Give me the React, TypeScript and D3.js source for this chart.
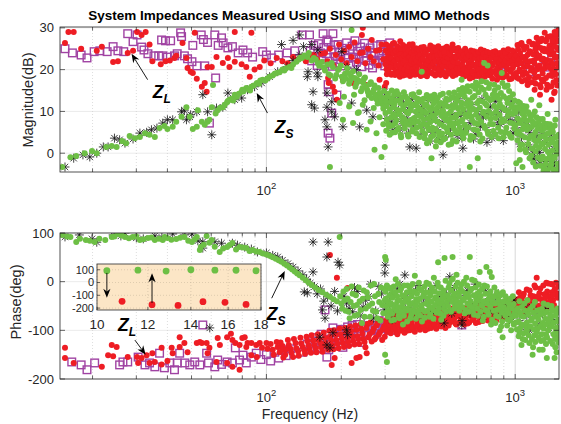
import React from 'react';
import * as d3 from 'd3';

// ---- data: [frequency (Hz), value] pairs, flat ----
// Z_L SISO (purple squares), magnitude dB
const zlMagSiso = [
  15.5, 25.0, 16.6, 24.0, 18, 23.5, 19, 22.8, 20.3, 24.3, 21.4, 24.5, 22.9, 24.3, 24.2, 25.5, 25.3, 24.5, 26.7, 24.3,
  27.7, 28.6, 29.1, 26.7, 30.2, 28.3, 31.5, 25.4, 32.2, 24.7, 33.4, 23.8, 35.3, 23.3, 36.9, 23.3, 37.9, 27.1, 38.3, 23.3,
  39.3, 26.9, 40, 23.0, 41.2, 26.9, 42.7, 23.3, 43.8, 23.8, 45.2, 28.8, 45.6, 27.9, 46.8, 23.3, 48.2, 22.6, 50.2, 21.9,
  50.6, 25.8, 52.5, 20.9, 54.7, 28.3, 55.8, 27.2, 56.5, 20.9, 58, 26.5, 59, 7.2, 62, 28.3, 62.5, 18.0, 64, 25.8,
  66, 27.6, 67, 26.4, 70, 25.2, 73, 25.5, 77, 24.0, 80.5, 24.7, 84, 24.0, 88, 23.0, 96.6, 24.3, 100, 23.5,
  105, 22.8, 112, 23.5, 121, 24.0, 130, 24.5, 139, 28.3, 149, 28.3, 169, 28.6, 175, 27.1, 185, 28.6,
  177, 16.4, 178, 14.7, 183, 9.6, 177, 4.8, 180, 3.6, 192, 13.9, 313, 26.4,
  150, 24.5, 152, 22.1, 155, 25.8, 157, 23.2, 160, 21.0, 162, 26.2, 165, 24.0, 167, 22.5, 170, 25.3, 172, 21.4,
  174, 23.8, 177, 26.6, 179, 22.0, 182, 24.7, 184, 20.8, 187, 25.9, 189, 23.1, 192, 21.6, 194, 26.0, 197, 24.2,
  199, 22.4, 202, 25.1, 205, 20.9, 207, 23.5, 210, 26.4, 213, 22.7, 216, 24.8, 218, 21.2, 221, 25.6, 224, 23.0,
  227, 26.9, 230, 21.8, 233, 24.4, 236, 22.6, 239, 25.4, 242, 20.7, 245, 23.9, 248, 26.3, 251, 22.2, 254, 24.6,
  258, 21.1, 261, 25.2, 264, 23.3, 267, 20.4, 271, 24.1, 274, 22.0, 278, 25.7, 281, 21.5, 285, 23.6, 288, 26.0,
  292, 22.3, 295, 24.5, 299, 20.9, 303, 23.2, 306, 25.1, 310, 21.7,
  330, 24.8, 360, 22.0, 390, 23.5, 413, 20.0, 425, 22.8, 440, 19.6, 470, 21.9, 500, 20.4, 540, 22.5, 580, 19.8,
  620, 21.4, 660, 19.0, 700, 22.2, 760, 20.0, 820, 21.6, 880, 19.3, 940, 21.0, 1000, 20.2, 1080, 22.4, 1150, 19.5,
  1230, 21.8, 1320, 20.6, 1400, 23.5, 1460, 24.5, 1490, 22.0,
];

// Z_L MIMO (red dots), magnitude dB
const zlMagMimo = [
  15.5, 26.4, 16, 29, 16.8, 29, 18, 25, 20.8, 24.5, 21.8, 25.5, 24.2, 21.8, 25.3, 22, 27.7, 24, 29.1, 24.5,
  30.2, 29, 31.5, 28.3, 32.7, 29, 33.9, 26, 34.8, 22, 37.6, 21.3, 39.3, 22, 40.9, 22.2, 42.7, 22.8, 43.4, 23.3,
  46, 26.4, 47.7, 22.8, 48.2, 20.4, 49.6, 19.5, 50.6, 19.2, 51.5, 28.8, 52.5, 17.8, 55, 15.9, 56.5, 16.8, 57.5, 14.7,
  58, 20.6, 60.3, 20.6, 63, 23, 66.8, 21.6, 70, 22.8, 71, 20.6, 74.6, 21.9, 74.6, 29, 79.5, 21.3, 83, 20.6,
  85.7, 18.3, 87, 28.8, 89.6, 20, 94, 20.6, 98, 22.2, 104, 21.5, 110, 22.8, 116, 22, 122, 21.5, 128, 23,
  134, 22.5, 139, 23, 144, 22, 149, 22.8, 155, 23.5, 160, 22.5, 166, 23.8,
  172, 24, 176, 22, 180, 25, 186, 21, 190, 23.5, 196, 26, 200, 22.5, 205, 24.5, 210, 21.5, 215, 25.5,
  220, 23, 226, 26.5, 232, 22, 238, 24, 242, 28.3, 244, 24.1, 244, 30, 250, 21.5, 256, 25, 262, 23,
  265, 27.1, 270, 22, 276, 24.5, 282, 21, 285, 24.7, 290, 26, 295, 22.5,
  177, 18, 178, 16.8, 185, 15.9, 188, 14.7, 192, 12.8, 203, 17.5, 223, 16.8, 253, 16.3, 285, 17.6, 299, 15.9, 303, 16.8,
  302, 24.5, 304, 20.1, 306, 22.8, 308, 19.2, 311, 25.6, 313, 21.4, 315, 23.7, 318, 18.8, 320, 22.1, 322, 26.2,
  325, 20.5, 327, 24.1, 330, 19.6, 332, 22.9, 335, 25.1, 337, 21.0, 340, 23.4, 342, 19.9, 345, 26.8, 347, 22.3,
  350, 20.7, 353, 24.6, 355, 18.6, 358, 23.0, 360, 21.7, 363, 25.4, 366, 19.4, 368, 22.6, 371, 24.0, 374, 20.3,
  376, 26.0, 379, 21.9, 382, 23.8, 385, 19.1, 388, 22.4, 391, 25.0, 394, 20.8, 397, 23.3, 400, 18.9,
  403, 24.2, 407, 21.1, 411, 22.9, 415, 19.5, 419, 25.3, 423, 20.6, 427, 23.5, 431, 18.7, 435, 22.0, 439, 24.6,
  444, 20.0, 448, 23.1, 452, 21.4, 456, 25.8, 461, 19.3, 465, 22.6, 470, 24.1, 474, 20.4, 479, 23.8, 484, 18.9,
  488, 21.8, 493, 24.9, 498, 20.9, 503, 22.7, 508, 19.6, 513, 23.9, 518, 21.2, 523, 25.2, 528, 19.0, 534, 22.3,
  539, 24.4, 545, 20.2, 550, 23.2, 556, 21.5, 562, 18.5, 568, 24.7, 574, 20.7, 580, 22.8, 586, 19.4, 592, 23.6, 598, 21.0,
  604, 23.9, 611, 19.8, 618, 22.1, 625, 18.4, 632, 24.3, 639, 20.5, 646, 22.9, 653, 19.1, 661, 21.6, 668, 23.7,
  676, 18.2, 684, 20.9, 692, 24.0, 700, 19.5, 708, 22.4, 716, 21.0, 724, 23.3, 732, 17.9, 741, 20.2, 750, 24.5,
  759, 19.0, 768, 22.0, 777, 20.6, 786, 23.5, 796, 18.6, 805, 21.4, 815, 24.2, 825, 19.7, 835, 22.6, 845, 17.6,
  855, 20.8, 865, 23.2, 876, 19.3, 887, 21.9, 898, 24.6, 909, 18.4, 920, 21.1, 931, 23.8, 942, 19.9, 954, 22.3,
  966, 17.8, 978, 20.4, 990, 24.1,
  1003, 21.8, 1015, 18.1, 1027, 24.9, 1040, 20.0, 1052, 22.7, 1065, 17.2, 1078, 25.6, 1091, 19.4, 1104, 23.1, 1117, 21.0,
  1130, 16.8, 1144, 24.4, 1158, 19.8, 1172, 26.0, 1186, 22.2, 1200, 18.0, 1214, 23.9, 1229, 20.6, 1244, 27.2, 1258, 16.3,
  1273, 22.5, 1289, 19.1, 1304, 25.0, 1320, 21.4, 1336, 15.2, 1352, 27.8, 1368, 18.6, 1384, 23.6, 1400, 20.1, 1417, 26.2,
  1434, 14.4, 1450, 22.9, 1467, 17.5, 1484, 28.5, 1495, 20.7,
  461, 25.5, 560, 26, 687, 24.3, 1043, 26, 1220, 27.6, 1314, 28.8, 1441, 29, 1467, 26.7, 1350, 24.3,
  1122, 16.3, 1197, 15.2, 1258, 14, 1400, 12.8, 1441, 14.7,
  1230, 25.5, 1265, 26.8, 1290, 24.6, 1330, 27.0, 1375, 25.8, 1395, 28.0, 1425, 24.0, 1455, 27.6, 1475, 25.2, 1490, 29.5,
  1310, 22.0, 1360, 21.0, 1410, 18.5, 1445, 20.0, 1470, 23.0, 1400, 16.0, 1280, 17.6, 1210, 25.0,
];
const zlMagMimoDense = [
  301, 21.3, 303, 26.0, 305, 18.9, 307, 24.0, 309, 22.2, 310, 19.8, 312, 23.0, 314, 25.2, 316, 20.6, 317, 22.7,
  319, 24.8, 321, 19.0, 323, 21.7, 324, 23.9, 326, 26.4, 328, 22.0, 329, 18.7, 331, 24.4, 333, 20.9, 334, 23.1,
  336, 25.6, 338, 19.3, 339, 22.5, 341, 24.3, 343, 21.2, 344, 18.3, 346, 23.6, 348, 25.0, 349, 20.2, 351, 22.8,
  352, 19.1, 354, 25.9, 356, 21.6, 357, 23.4, 359, 20.0, 361, 24.9, 362, 22.1, 364, 18.8, 365, 23.7, 367, 21.0,
  369, 25.3, 370, 19.7, 372, 22.9, 373, 24.5, 375, 20.7, 377, 23.0, 378, 18.5, 380, 25.7, 381, 21.5, 383, 22.2,
  384, 24.0, 386, 20.0, 387, 26.1, 389, 19.3, 390, 23.2, 392, 21.9, 393, 24.7, 395, 18.8, 396, 22.6, 398, 25.1, 399, 20.5,
  401, 22.1, 404, 19.8, 406, 25.0, 408, 23.0, 410, 19.2, 412, 24.6, 414, 21.7, 416, 23.5, 417, 18.5, 420, 22.4,
  422, 24.9, 424, 20.1, 426, 22.6, 429, 25.4, 430, 20.9, 433, 23.8, 436, 19.9, 437, 24.2, 441, 21.3, 442, 18.4,
  446, 24.8, 447, 22.2, 450, 19.4, 454, 23.3, 455, 25.1, 458, 20.7, 460, 22.9, 463, 24.5, 467, 19.0, 468, 21.5,
  472, 23.0, 473, 25.3, 477, 18.6, 478, 22.0, 481, 24.4, 483, 20.3, 486, 23.4, 490, 19.5, 491, 25.6, 495, 22.3,
  496, 20.0, 500, 24.0, 501, 18.7, 505, 21.7, 506, 23.6, 510, 25.0, 511, 20.8, 515, 22.2, 516, 19.2, 520, 24.1,
  521, 21.9, 525, 23.0, 526, 18.4, 531, 25.5, 532, 20.6, 536, 22.8, 537, 19.7, 542, 24.0, 543, 21.3, 548, 23.7,
  549, 19.0, 553, 25.2, 554, 20.7, 559, 22.5, 560, 24.6, 565, 19.6, 566, 21.9, 571, 23.1, 572, 25.0, 577, 18.8,
  578, 22.9, 583, 20.3, 584, 24.3, 589, 21.6, 590, 25.2, 595, 19.2, 596, 23.4,
  600, 20.3, 607, 24.4, 608, 22.7, 614, 18.9, 615, 21.0, 621, 23.5, 622, 20.0, 628, 22.4, 629, 25.0, 635, 18.8,
  636, 22.9, 642, 19.6, 643, 24.1, 650, 21.5, 651, 23.4, 657, 17.9, 658, 20.5, 664, 24.6, 665, 22.0, 672, 19.6,
  673, 23.1, 680, 21.2, 681, 24.4, 688, 18.6, 689, 22.8, 696, 20.6, 697, 23.7, 704, 18.5, 705, 21.6, 712, 24.2,
  713, 20.0, 720, 22.7, 721, 19.0, 728, 24.8, 729, 21.4, 737, 19.4, 738, 22.9, 745, 20.6, 746, 23.8, 755, 18.3,
  756, 21.7, 764, 23.0, 765, 19.9, 773, 24.2, 774, 21.1, 782, 18.7, 783, 22.3, 791, 20.2, 792, 24.0, 800, 19.4,
  801, 22.8, 810, 17.8, 811, 21.0, 820, 23.6, 821, 19.5, 830, 21.8, 831, 24.4, 840, 18.9, 841, 22.6, 850, 20.4,
  851, 23.9, 860, 18.2, 861, 21.7, 870, 24.0, 871, 19.6, 881, 22.4, 882, 20.9, 892, 18.1, 893, 23.2, 903, 21.4,
  904, 19.2, 914, 24.0, 915, 22.2, 925, 18.6, 926, 20.5, 936, 22.9, 937, 24.9, 948, 17.7, 949, 21.5, 960, 23.4,
  961, 19.5, 972, 22.1, 973, 24.6, 984, 18.5, 985, 21.0, 996, 22.8,
  1009, 23.4, 1010, 19.2, 1021, 21.3, 1022, 25.9, 1034, 17.8, 1035, 22.4, 1046, 24.0, 1047, 19.6, 1059, 21.5, 1060, 26.4,
  1072, 18.7, 1073, 23.0, 1085, 20.6, 1086, 24.8, 1098, 17.5, 1099, 22.1, 1111, 25.4, 1112, 19.0, 1124, 23.6, 1125, 20.8,
  1137, 18.2, 1138, 26.7, 1151, 22.0, 1152, 24.3, 1165, 17.0, 1166, 20.4, 1179, 23.7, 1180, 26.2, 1193, 19.3, 1194, 21.6,
  1207, 24.9, 1208, 16.6, 1221, 22.8, 1222, 20.0, 1236, 26.5, 1237, 18.3, 1251, 23.3, 1252, 21.0, 1266, 15.8, 1267, 25.2,
  1281, 19.9, 1282, 27.4, 1297, 22.6, 1298, 17.2, 1312, 24.4, 1313, 20.3, 1328, 26.8, 1329, 18.0, 1344, 22.3, 1345, 16.4,
  1360, 25.0, 1361, 20.6, 1376, 27.9, 1377, 15.9, 1392, 22.0, 1393, 24.8, 1408, 19.1, 1409, 26.9, 1425, 21.2, 1426, 17.0,
  1442, 25.5, 1443, 23.0, 1459, 18.9, 1460, 28.6, 1476, 21.6, 1477, 16.2, 1492, 24.7, 1493, 26.9,
];

// Z_S SISO (black asterisks), magnitude dB
const zsMagSiso = [
  15.5, -3.3, 16.8, -1.2, 18.3, -0.4, 19.5, -0.9, 20.8, 0, 22.1, 1.5, 23.1, 1.5, 24.5, 3.6, 25.7, 3.2, 27, 2.4,
  29.1, 3.4, 31, 4.8, 33, 5.0, 34.5, 5.6, 36.3, 6.0, 38.3, 7.2, 40, 8.0, 42, 8.0, 45.6, 9.9, 46.8, 10.3,
  47.7, 8.0, 49.2, 8.7, 49.6, 9.2, 52.5, 9.9, 55.5, 14, 58, 9.9, 60.3, 4.4, 63, 10.8, 66.8, 11, 70, 14.4,
  74.6, 12.8, 79.5, 13.2, 84, 15.2, 89.6, 15.9, 95.7, 16.8, 103, 18.3, 111, 19.5, 115, 26, 121, 20.7, 128, 22.2,
  128, 27, 136, 23.5, 136, 28.3, 141, 25.5, 146, 18.3, 147, 19.5, 152, 26, 152, 11.6, 154, 14.7, 156, 10.8,
  160, 19.2, 161, 18.3, 161, 24.7, 172, 8, 175, 14.4, 175, 11, 175, 6.3, 177, 1.5, 183, 9.9, 183, 12.3,
  188, 8.7, 201, 24.3, 203, 6.3, 211, 20.6, 220, 12, 230, 20, 237, 6.3, 253, 10.3, 268, 8.7, 291, 13.5,
  299, 14.7, 377, 1.5, 400, 1.2, 513, -0.4, 616, 1.2, 1180, 0, 1190, -1.6, 1258, -2.4, 1420, -3.3,
  310, 11.8, 318, 7.5, 326, 13.0, 335, 9.2, 345, 5.8, 356, 12.1, 366, 8.4, 378, 10.9, 390, 6.7, 403, 9.7,
  415, 4.4, 428, 11.0, 442, 7.1, 456, 2.9, 470, 9.5, 485, 5.6, 500, 10.9, 516, 3.8, 532, 8.1, 549, 6.0,
  566, 11.5, 584, 4.2, 602, 9.0, 620, 5.1, 640, 12.2, 660, 7.3, 680, 3.4, 702, 10.0, 724, 6.4, 746, 8.6,
  770, 2.6, 794, 11.1, 818, 5.0, 843, 9.2, 869, 6.9, 896, 3.0, 924, 10.4, 953, 7.8, 982, 4.8, 1012, 8.0,
  1044, 2.2, 1076, 6.1, 1109, 0.8, 1143, 4.9, 1179, -1.2, 1215, 3.1, 1253, 0.2, 1291, 5.0, 1331, -2.0, 1372, 2.1,
  1415, -0.6, 1459, 1.5, 1490, -2.8,
  305, 8.3, 315, 12.4, 322, 5.5, 332, 10.6, 340, 13.5, 350, 7.6, 362, 10.2, 372, 4.8, 384, 12.8, 396, 8.0,
  409, 11.2, 421, 6.5, 435, 9.3, 449, 12.6, 463, 5.0, 478, 8.0, 492, 3.3, 508, 7.4, 524, 12.3, 540, 4.8,
  557, 9.1, 575, 7.0, 593, 13.0, 611, 3.6, 630, 9.8, 650, 6.0, 670, 11.6, 691, 4.5, 713, 8.9, 735, 12.9,
  758, 6.2, 782, 9.5, 806, 3.6, 831, 12.4, 856, 7.4, 882, 10.4, 910, 4.9, 938, 8.7, 967, 12.5, 997, 6.0,
  1028, 9.7, 1060, 3.9, 1092, 7.0, 1126, 2.0, 1161, 6.4, 1197, 0.5, 1234, 4.2, 1272, -1.4, 1311, 2.6, 1351, -3.0,
  1393, 4.4, 1437, -2.2, 1475, 0.3,
];

// Z_S MIMO (green dots), magnitude dB
const zsMagMimo = [
  15.1, -3.3, 16.3, -1.0, 17.2, -0.7, 18.6, 0, 19.9, 0.5, 20.8, 0, 22.7, 1.5, 23.9, 1.7, 25, 1.5, 26.3, 2.9,
  27.3, 2.4, 28.2, 4.1, 29.6, 3.6, 31, 3.9, 32.5, 4.8, 33.9, 4.4, 35.6, 3.9, 37.2, 6.0, 38.9, 6.5, 40, 5.8,
  42, 6.3, 43.4, 7.5, 45.6, 8.7, 47.7, 11.0, 49.2, 8.7, 50.6, 5.8, 52.5, 6.3, 53, 10.3, 55, 7.5, 58, 7.5,
  60.3, 11, 61, 16.3, 63.7, 10.3, 66.8, 11, 71, 12.8, 74.6, 14, 79.5, 14.7, 83, 15.6, 87, 15.9, 91.5, 16.8,
  96.6, 17.6, 103, 18.3, 110, 19.2, 116, 20, 124, 20.7, 132, 21.9, 139, 22.8, 146, 23.0, 152, 22.2,
  62.5, 9.5, 65, 10.8, 68, 11.6, 69.5, 12.2, 72.5, 13.0, 76, 13.5, 77.5, 14.2, 81, 14.8, 85, 15.3, 89, 16.2,
  93.5, 16.6, 99, 17.4, 106, 18.6, 113, 19.4, 120, 20.3, 128, 21.2, 135, 22.4, 142, 23.4, 56.5, 6.8, 59, 8.0,
  70, 12.5, 73.5, 12.6, 80, 15.2, 86, 15.0, 94.5, 17.4, 101, 17.9, 108, 19.0, 118, 19.8, 126, 20.4, 137, 22.9,
  148, 24.0, 155, 22.8,
  158, 22.4, 163, 20.9, 167, 21.8, 172, 19.8, 176, 21.2, 181, 18.6, 185, 20.6, 189, 17.9, 194, 19.9, 199, 21.0,
  203, 17.2, 207, 19.0, 211, 20.3, 215, 16.6, 219, 18.4, 223, 19.6, 228, 15.9, 232, 17.6, 236, 18.9, 240, 14.8,
  245, 16.9, 249, 18.1, 254, 15.2, 258, 13.8, 263, 17.0, 267, 14.5, 272, 16.2, 277, 12.9, 282, 15.6, 287, 13.6,
  292, 11.8, 297, 14.9,
  161, 21.5, 170, 20.5, 178, 18.9, 183, 21.6, 191, 18.7, 196, 20.2, 201, 18.3, 209, 17.8, 213, 19.2, 217, 17.3,
  226, 18.0, 230, 16.7, 238, 17.2, 243, 15.6, 247, 17.9, 252, 16.1, 256, 14.6, 260, 16.5, 265, 13.2, 270, 15.2,
  275, 14.0, 280, 11.9, 285, 14.4, 289, 12.5, 295, 10.7, 299, 13.2,
  205, 13.5, 215, 11.2, 225, 14.0, 235, 9.8, 248, 12.7, 262, 7.6, 270, 10.8, 285, 8.6, 295, 6.9,
  220, 29.5, 180, -3.3, 290, -0.9, 272, 0.8, 299, 1.5, 277, 4.8, 253, 5.6, 223, 7.2, 203, 8, 233, 9.6, 244, 11.6, 197, 12,
  775, 21, 883, 19.2, 609, 17.6, 750, 21.6, 707, 16.3, 615, 15.6, 421, 19.5,
  461, -1.2, 657, -3.3, 707, -1.2, 1043, -1.6, 1070, -3.3, 1010, -2.4,
];
const zsMagMimoDense = [
  302, 12.4, 305, 8.1, 308, 14.2, 311, 6.3, 314, 10.5, 317, 13.1, 320, 4.9, 324, 9.3, 327, 11.8, 330, 7.2,
  334, 14.8, 337, 5.6, 341, 10.1, 344, 12.7, 348, 3.8, 351, 8.6, 355, 11.2, 358, 6.9, 362, 13.6, 366, 9.8,
  370, 4.4, 373, 12.0, 377, 7.7, 381, 10.9, 385, 5.2, 389, 14.1, 393, 8.4, 397, 11.5, 401, 6.1, 405, 13.0,
  409, 9.0, 413, 3.9, 417, 10.4,
  301, 9.6, 303, 5.4, 304, 11.3, 307, 13.7, 309, 7.0, 312, 10.0, 313, 4.4, 316, 12.2, 318, 8.6, 319, 15.0,
  322, 6.6, 323, 11.0, 326, 13.9, 328, 9.0, 329, 5.0, 332, 12.6, 333, 7.9, 336, 10.4, 339, 14.1, 340, 6.0,
  343, 9.3, 346, 11.9, 347, 4.4, 350, 13.3, 353, 7.4, 354, 10.5, 357, 14.6, 359, 8.1, 360, 5.9, 364, 11.8,
  365, 7.1, 368, 13.0, 371, 9.5, 372, 4.0, 375, 12.4, 376, 6.8, 379, 10.2, 383, 14.0, 384, 8.0, 387, 5.6,
  391, 11.6, 392, 7.3, 395, 13.4, 399, 9.9, 400, 4.8, 403, 12.1, 407, 7.6, 408, 10.9, 411, 14.6, 415, 6.4,
  416, 12.8, 419, 8.7,
  421, 12.3, 426, 7.0, 430, 9.9, 434, 4.6, 439, 11.7, 443, 6.4, 448, 13.5, 452, 2.9, 457, 8.8, 461, 10.8,
  466, 5.5, 471, 12.9, 475, 7.9, 480, 1.6, 485, 9.6, 490, 11.1, 495, 4.1, 500, 13.9, 505, 6.8, 510, 10.2,
  515, 3.3, 521, 8.3, 526, 12.4, 531, 5.9, 537, 9.4, 542, 14.4, 548, 7.3, 553, 2.2, 559, 11.4, 565, 6.0,
  571, 13.2, 577, 8.5, 583, 4.8, 589, 10.7, 595, 15.1,
  423, 10.0, 424, 5.3, 428, 13.0, 429, 8.1, 432, 3.6, 433, 11.4, 437, 6.8, 438, 9.6, 441, 13.9, 442, 2.4,
  446, 8.3, 447, 11.0, 450, 5.6, 451, 12.9, 455, 7.4, 456, 10.3, 459, 3.9, 460, 13.6, 464, 9.0, 465, 6.1,
  469, 11.9, 470, 4.3, 473, 14.0, 474, 8.6, 478, 10.6, 479, 5.8, 482, 12.5, 483, 3.0, 487, 7.6, 488, 13.2,
  492, 9.8, 493, 5.0, 497, 11.8, 498, 7.0, 502, 2.6, 503, 12.0, 507, 8.9, 508, 4.7, 512, 14.2, 513, 10.1,
  517, 6.4, 518, 11.5, 523, 3.6, 524, 9.1, 528, 13.0, 529, 7.8, 534, 5.1, 535, 11.2, 539, 8.0, 540, 2.0,
  545, 12.9, 546, 6.6, 551, 10.0, 552, 4.4, 557, 13.4, 558, 8.5, 562, 3.1, 563, 10.9, 568, 7.1, 569, 14.5,
  574, 5.4, 575, 11.8, 580, 9.2, 581, 2.8, 586, 12.6, 587, 7.2, 592, 4.9, 593, 13.8, 598, 9.6, 599, 6.2,
  602, 7.6, 609, 12.1, 616, 4.3, 623, 14.6, 630, 9.2, 637, 6.1, 644, 16.0, 652, 11.0, 659, 3.2, 667, 8.7,
  675, 13.3, 683, 5.7, 691, 15.4, 699, 10.1, 707, 7.0, 716, 12.6, 724, 2.8, 733, 17.2, 742, 9.6, 751, 6.5,
  760, 14.0, 769, 11.4, 778, 4.6, 788, 16.5, 797, 8.2, 807, 12.9, 817, 5.3, 827, 15.0, 837, 9.9, 847, 13.8,
  857, 3.6, 868, 11.8, 878, 7.4, 889, 16.8, 900, 10.6, 911, 5.0, 922, 13.1, 934, 8.9, 945, 14.9, 957, 4.0,
  969, 11.6, 981, 7.1, 993, 12.6,
  605, 11.1, 606, 5.2, 612, 14.1, 613, 8.0, 619, 3.6, 620, 10.5, 626, 13.5, 627, 6.8, 633, 11.8, 634, 4.9,
  640, 15.0, 641, 8.7, 648, 12.7, 649, 6.2, 655, 9.8, 656, 14.7, 663, 4.1, 664, 11.9, 671, 7.9, 672, 16.1,
  679, 10.6, 680, 3.9, 687, 13.7, 688, 7.2, 695, 9.2, 696, 16.9, 703, 5.5, 704, 12.0, 712, 8.4, 713, 14.6,
  720, 4.5, 721, 10.9, 729, 15.7, 730, 7.5, 738, 12.4, 739, 3.5, 747, 9.9, 748, 15.2, 756, 6.0, 757, 11.9,
  765, 17.0, 766, 8.8, 774, 13.2, 775, 5.2, 783, 10.1, 784, 15.6, 793, 7.0, 794, 12.7, 803, 3.9, 804, 9.4,
  813, 14.0, 814, 6.9, 823, 11.3, 824, 16.4, 833, 4.5, 834, 8.4, 843, 13.4, 844, 10.9, 854, 6.1, 855, 15.7,
  865, 9.2, 866, 12.9, 875, 5.1, 876, 14.4, 886, 8.1, 887, 11.0, 897, 3.8, 898, 13.6, 908, 7.7, 909, 15.9,
  920, 10.3, 921, 6.1, 931, 12.0, 932, 16.2, 943, 4.7, 944, 9.9, 955, 13.3, 956, 7.3, 967, 11.1, 968, 3.7,
  979, 14.1, 980, 9.4, 991, 5.9, 992, 10.5,
  1005, 9.8, 1016, 4.7, 1027, 12.3, 1039, 7.2, 1050, 2.1, 1062, 10.4, 1074, 5.8, 1086, 8.9, 1098, 0.9, 1110, 11.2,
  1122, 6.3, 1135, 3.5, 1147, 9.1, 1160, -0.6, 1173, 7.6, 1186, 4.2, 1199, 10.0, 1212, 1.8, 1226, 6.8, 1240, 3.0,
  1254, 8.2, 1268, -1.5, 1282, 5.4, 1296, 2.4, 1311, 7.1, 1325, -2.6, 1340, 4.6, 1355, 0.3, 1370, 6.0, 1386, -3.4,
  1401, 2.9, 1417, 5.1, 1433, -0.9, 1449, 3.8, 1466, -4.0, 1482, 1.2, 1495, 4.4, 1210, -3.2, 1300, -4.2, 1160, 12.8,
  1250, 11.5, 1350, 9.4, 1450, 8.0, 1480, -2.5, 1400, -1.8,
  1002, 6.6, 1011, 11.0, 1021, 3.1, 1022, 8.3, 1033, 10.9, 1034, 5.2, 1045, 12.0, 1046, 0.9, 1056, 7.9, 1057, 4.3,
  1068, 9.5, 1069, 2.0, 1080, 11.3, 1081, 6.6, 1092, 3.8, 1093, 8.0, 1104, 10.1, 1105, 0.2, 1116, 5.6, 1117, 7.7,
  1128, 2.2, 1129, 9.8, 1141, 6.0, 1142, -1.2, 1154, 4.1, 1155, 8.5, 1167, 1.1, 1168, 6.3, 1180, 9.2, 1181, -2.2,
  1193, 3.2, 1194, 7.2, 1206, 5.0, 1207, 0.4, 1219, 8.6, 1220, 2.9, 1233, -1.0, 1234, 5.9, 1247, 7.8, 1248, 1.3,
  1261, 4.0, 1262, -3.0, 1275, 6.6, 1276, 2.1, 1289, -0.8, 1290, 8.2, 1303, 4.0, 1304, -3.6, 1318, 1.0, 1319, 6.0,
  1333, 3.3, 1334, -1.4, 1348, 7.0, 1349, -4.1, 1363, 2.0, 1364, 4.8, 1378, -0.6, 1379, 6.9, 1394, -2.7, 1395, 3.4,
  1409, 0.6, 1410, 5.9, 1425, -3.9, 1426, 2.5, 1441, -1.1, 1442, 6.6, 1457, 1.8, 1458, -4.3, 1474, 4.0, 1475, -0.1,
  1490, 2.6, 1491, -3.6,
];

// Z_L SISO (purple squares), phase deg
const zlPhaseSiso = [
  16.5, -165, 18, -171, 19, -181, 20.4, -167, 25.7, -171, 26.5, -165, 27.7, -165, 30.5, -155, 32.5, -171, 33.9, -167,
  35.6, -175, 37.2, -147, 38.9, -177, 40.9, -167, 42.7, -181, 43.8, -167, 44.8, -147, 47, -167, 49.2, -171, 51.5, -165,
  54, -171, 55.5, -89, 57.5, -147, 58.5, -167, 62, -175, 63.7, -161, 66, -170, 69.5, -165, 73, -167, 75, -136,
  78, -161, 80.5, -151, 83, -167, 87, -155, 91, -147,
  95, -160, 100, -150, 104, -163, 108, -145, 112, -157, 116, -140, 120, -152, 125, -138, 130, -148, 135, -133,
  140, -145, 146, -128, 152, -140, 158, -122, 164, -135, 170, -118, 172, -58, 175, -120, 175, -155, 178, -110,
  182, -128, 188, -104, 194, -120, 200, -98, 206, -115, 212, -93, 218, -110, 225, -100, 232, -88, 240, -106,
  248, -95, 256, -83, 265, -101, 274, -90, 284, -80, 294, -96, 305, -85, 320, -92, 340, -80, 360, -88, 610, -89,
  150, -128, 155, -115, 160, -138, 166, -108, 168, -125, 178, -140, 185, -95, 190, -132, 197, -112, 203, -135,
  209, -102, 215, -122, 221, -90, 228, -117, 235, -96, 243, -125, 251, -105, 260, -90, 268, -112, 278, -97,
  288, -108, 300, -90, 315, -100, 330, -85, 350, -95, 375, -82,
];

// Z_L MIMO (red dots), phase deg
const zlPhaseMimo = [
  15.5, -136, 15.5, -157, 16.8, -167, 21.8, -175, 23.1, -151, 23.9, -130, 24.2, -153, 25, -134, 27.7, -155, 30.2, -155,
  30.5, -167, 31.5, -157, 33, -151, 33.9, -167, 34.8, -147, 35.6, -165, 37.9, -170, 37.9, -136, 40, -163, 41.6, -136,
  42, -147, 44.8, -134, 44.8, -114, 46.8, -126, 48.2, -145, 52.5, -126, 54, -124, 55, -126, 57.5, -126, 58, -147,
  59, -136, 63, -165, 63.7, -116, 65, -130, 69.5, -114, 69.5, -167, 72, -107, 73, -120, 73, -175, 75, -126,
  78, -130, 78, -181, 80, -116, 81.8, -114, 83, -134, 84, -126, 87, -126, 87, -151, 91, -130, 91.5, -155,
  94, -126, 96, -136, 100, -126, 106, -140, 110, -124,
  113, -145, 116, -132, 119, -150, 122, -120, 125, -138, 128, -155, 131, -126, 134, -143, 137, -115, 140, -134,
  143, -148, 146, -122, 149, -139, 152, -110, 156, -130, 159, -145, 163, -118, 166, -135, 170, -105, 173, -127,
  177, -140, 180, -113, 180, 55, 184, -131, 187, -100, 191, -120, 195, -137, 192, 8, 199, -108, 203, -126,
  207, -95, 211, -116, 215, -132, 219, -102, 223, -122, 228, -90, 230, -157, 232, -112, 236, -128, 237, -155,
  241, -98, 245, -118, 250, -135, 253, -147, 255, -87, 260, -108, 265, -123, 270, -96, 275, -115, 280, -85,
  286, -104, 292, -120, 297, -92, 183, -171, 188, -157, 220, -167, 212, -13, 161, -120, 116, -140,
  302, -88, 307, -74, 312, -99, 317, -67, 322, -92, 327, -80, 333, -104, 338, -70, 344, -86, 349, -96,
  355, -65, 361, -82, 367, -101, 373, -73, 379, -90, 385, -78, 391, -98, 398, -66, 404, -85, 411, -94,
  418, -71, 425, -88, 432, -63, 439, -80, 446, -97, 453, -69, 461, -86, 468, -75, 476, -92, 484, -62,
  492, -81, 500, -89, 508, -67, 516, -78, 524, -95,
  533, -71, 545, -84, 556, -60, 568, -77, 580, -88, 592, -64, 605, -79, 618, -55, 631, -73, 644, -86,
  658, -61, 672, -75, 686, -52, 700, -68, 715, -83, 730, -58, 745, -72, 761, -62, 777, -80, 793, -53,
  810, -67, 827, -76, 844, -57, 862, -70, 880, -49, 899, -63, 918, -74, 937, -54, 957, -66, 977, -45,
  990, -58, 1008, -40, 1026, -52, 1045, -33, 1064, -47, 1083, -25, 1103, -55, 1123, -38, 1143, -18, 1164, -44,
  1185, -30, 1207, -12, 1229, -49, 1251, -24, 1274, -36, 1297, -8, 1321, -42, 1345, -20, 1369, -30, 1394, -5,
  1419, -38, 1445, -15, 1471, -26, 1495, -10, 1220, 8, 1334, -2, 1415, -6, 1440, -17,
];
const zlPhaseMimoDense = [
  101, -138, 104, -128, 107, -150, 111, -134, 114, -125, 117, -156, 120, -139, 123, -130, 126, -146, 129, -118,
  132, -137, 135, -152, 138, -127, 142, -141, 145, -113, 148, -131, 151, -146, 154, -121, 158, -137, 161, -108,
  165, -126, 168, -144, 172, -116, 175, -133, 179, -101, 182, -121, 186, -139, 190, -109, 193, -127, 197, -96,
  201, -117, 205, -134, 209, -104, 213, -124, 217, -92, 221, -112, 226, -129, 230, -99, 234, -118, 239, -88,
  243, -107, 248, -124, 252, -95, 257, -114, 262, -84, 267, -103, 272, -119, 277, -90, 283, -109, 288, -79,
  294, -98, 299, -113,
  301, -96, 304, -80, 306, -103, 309, -69, 311, -88, 314, -75, 316, -106, 319, -83, 321, -70, 324, -98,
  326, -87, 329, -65, 331, -95, 335, -77, 336, -108, 340, -90, 342, -72, 346, -101, 348, -63, 352, -84,
  353, -93, 357, -74, 359, -105, 363, -69, 365, -88, 369, -96, 371, -62, 375, -81, 377, -100, 381, -72,
  383, -86, 387, -94, 389, -64, 393, -77, 395, -103, 400, -72, 402, -91, 407, -80, 409, -60, 414, -99,
  416, -76, 421, -85, 423, -65, 428, -93, 430, -74, 435, -100, 437, -68, 442, -84, 444, -62, 449, -90,
  451, -77, 456, -64, 459, -95, 464, -73, 466, -83, 472, -60, 474, -88, 480, -70, 482, -97, 488, -66,
  490, -76, 496, -85, 498, -61, 504, -92, 506, -72, 512, -82, 514, -59, 520, -88, 522, -70, 528, -79,
  538, -62, 540, -90, 550, -73, 552, -55, 562, -82, 564, -67, 574, -59, 576, -86, 586, -71, 588, -52,
  598, -84, 600, -66, 611, -57, 613, -76, 624, -88, 626, -63, 637, -53, 639, -81, 651, -69, 653, -84,
  665, -50, 667, -66, 679, -79, 681, -57, 693, -72, 695, -85, 708, -49, 710, -63, 723, -76, 725, -54,
  738, -68, 740, -81, 753, -48, 755, -60, 769, -73, 771, -50, 785, -65, 787, -78, 802, -59, 804, -45,
  819, -71, 821, -62, 836, -50, 838, -80, 853, -64, 855, -44, 871, -57, 873, -72, 889, -47, 891, -66,
  908, -56, 910, -41, 927, -69, 929, -48, 947, -60, 949, -38, 967, -52, 969, -70, 988, -44,
  1000, -36, 1017, -62, 1035, -22, 1055, -50, 1074, -30, 1093, -62, 1113, -16, 1133, -46, 1153, -28, 1174, -56,
  1196, -8, 1218, -36, 1240, -52, 1262, -14, 1285, -45, 1309, -26, 1333, -56, 1357, -4, 1381, -40, 1406, -22,
  1432, -48, 1458, -2, 1483, -33, 1012, -45, 1065, -40, 1150, -35, 1240, -30, 1330, -32, 1420, -28, 1490, -25,
];

// Z_S SISO (black asterisks), phase deg
const zsPhaseSiso = [
  15.5, 92, 17.7, 96, 19.9, 88, 20.8, 81, 24.2, 96, 26, 94, 27, 100, 30, 90, 32, 88, 35.6, 94,
  38, 91, 42, 98, 46.8, 96, 50.2, 98, 53, 84, 55.5, 82, 55.5, 69, 59.2, -95, 62, 82, 66, 79,
  73, 79, 76.5, 75, 81.8, 71, 87, 67, 92, 61, 100, 59, 106, 54, 111, 50.7, 116, 44, 122, 37,
  128, 30, 134, 22, 140, 14, 145, 5, 150, -3, 156, -10, 160, -25, 165, -15, 170, -40, 176, -30,
  182, -50, 188, -20, 193, -60,
  154, 81.5, 177, 81.5, 175, 50.7, 194, 40, 197, 34, 300, 34, 299, 17.8, 360, 13.7, 154, 20, 142, -21,
  146, -23, 168, -58, 172, -75, 164, -114, 180, -136, 175, -130, 185, -105, 210, -99, 212, -109, 610, -89,
  382, -21, 546, 10,
  205, -30, 215, -55, 226, -12, 238, -70, 250, -38, 262, -5, 275, -60, 290, -25, 305, -48, 320, -78,
  336, -15, 352, -55, 370, -35, 388, -68, 407, -8, 427, -45, 448, -22, 470, -58, 494, -30, 518, -85,
  543, -40, 570, -12, 598, -50, 627, -28, 658, -65, 690, -5, 724, -42, 760, -20, 797, -55, 836, -35,
  877, -70, 920, -48, 966, -82, 1013, -60, 1062, -95, 1114, -70, 1169, -52, 1226, -88, 1286, -66, 1349, -100,
  1415, -78, 1480, -92,
  210, -44, 222, -62, 232, -20, 245, -52, 258, -30, 270, -75, 283, -10, 298, -58, 313, -30, 328, -60,
  344, -5, 361, -40, 379, -52, 398, -18, 417, -72, 437, -35, 459, -60, 481, -8, 506, -48, 530, -25,
  556, -65, 584, -35, 612, -80, 642, -18, 674, -50, 707, -30, 742, -72, 778, -40, 816, -62, 856, -25,
  898, -55, 943, -70, 989, -38, 1037, -80, 1088, -48, 1141, -100, 1197, -66, 1256, -90, 1318, -55, 1382, -78,
  1450, -110,
];

// Z_S MIMO (green dots), phase deg
const zsPhaseMimo = [
  15.1, 96, 16.3, 91.8, 17.2, 81.5, 18.8, 85.6, 20.4, 81.5, 22.5, 85.6, 23.9, 91.8, 25.3, 98, 27, 91.8, 29, 91.8,
  31, 85.6, 33.4, 89.7, 35.6, 85.6, 38.3, 85.6, 40, 89.7, 43.4, 87.7, 46.8, 91.8, 50.2, 81.5, 52.5, 91.8, 54, 65,
  54.5, 71, 57.5, 94, 60.3, 85.6, 64.9, 61, 69.5, 71, 73, 79.4, 78, 71, 83, 69, 88, 65, 94, 61,
  15.8, 93, 17.8, 88, 19.5, 84, 21.3, 88, 24.5, 93, 26.2, 95, 28, 89, 30, 93, 32, 87, 34.5, 91,
  37, 88, 39, 92, 41.5, 86, 45, 90, 48.5, 84, 51.5, 87, 56, 76, 59, 80, 62, 72, 67, 68,
  71, 75, 75.5, 66, 80.5, 70, 85.5, 63, 91, 62, 96.5, 58,
  100, 56, 103, 53, 106, 50, 109, 47, 112, 44, 115, 41, 118, 37, 121, 33, 124, 29, 127, 25,
  130, 21, 133, 17, 136, 13, 140, 8, 144, 3, 148, -2, 152, -7, 157, -12, 162, -17, 168, -22,
  174, -27, 180, -31, 186, -36, 192, -40,
  200, -45, 204, -20, 208, -60, 212, -35, 216, -75, 220, -10, 224, -50, 229, -28, 233, -68, 237, -40,
  242, -85, 246, -18, 251, -55, 256, -32, 261, -72, 266, -45, 271, -5, 276, -62, 282, -25, 287, -80,
  292, -48, 298, -15,
  198, -30, 202, -55, 206, -38, 210, -15, 214, -62, 218, -42, 222, -25, 226, -70, 231, -48, 235, -12,
  239, -58, 244, -35, 248, -72, 253, -22, 258, -50, 263, -8, 268, -60, 273, -30, 279, -75, 284, -42,
  289, -12, 295, -65, 299, -38,
  197, 92, 300, 50.7, 302, 45, 490, 40, 520, 48.6, 560, 50.7, 657, 50.7, 720, 20, 766, 30, 791, 20, 805, 9.6,
  300, -150, 305, -165, 1175, -150, 1290, -140, 1340, -157, 1440, -157, 1467, -145, 866, -100, 890, -114,
];
const zsPhaseMimoDense = [
  302, -35, 306, -62, 310, -12, 314, -48, 318, -80, 322, -25, 327, -55, 331, 5, 336, -40, 340, -70,
  345, -18, 350, -52, 354, -88, 359, -30, 364, -60, 369, -8, 374, -44, 379, -75, 384, -22, 389, -58,
  395, 12, 400, -36, 405, -66, 411, -14, 417, -50, 422, -82, 428, -28, 434, -62, 440, -2, 446, -42,
  452, -72, 458, -20, 464, -54, 471, 8, 477, -34, 484, -64, 490, -10, 497, -46, 504, -78, 511, -26,
  518, -56, 525, 2,
  301, -20, 303, -50, 305, -8, 308, -72, 309, -40, 312, -28, 313, -60, 316, -15, 317, -45, 320, -66,
  321, -33, 325, -10, 326, -78, 329, -48, 330, -22, 334, -60, 335, -30, 338, -5, 339, -52, 343, -75,
  344, -38, 348, -14, 349, -62, 352, -28, 353, -44, 357, -70, 358, -8, 362, -40, 363, -55, 367, -22,
  368, -82, 372, -35, 373, -58, 377, -12, 378, -48, 382, -68, 383, -30, 387, -5, 388, -44, 392, -62,
  393, -20, 398, -50, 399, -76, 403, -25, 404, -40, 409, -60, 410, -2, 414, -35, 415, -70, 420, -18,
  421, -48, 426, -58, 427, -30, 432, -10, 433, -74, 438, -45, 439, -22, 444, -60, 445, -34, 450, -5,
  451, -50, 456, -68, 457, -28, 462, -40, 463, -12, 468, -58, 469, -76, 475, -20, 476, -48, 481, -32,
  482, -62, 488, -2, 489, -40, 494, -55, 495, -24, 501, -66, 502, -12, 508, -45, 509, -35, 515, -70,
  516, -18, 522, -50, 523, -30, 528, -62,
  532, -40, 540, -12, 548, -58, 556, 4, 564, -30, 573, -48, 581, 14, 590, -22, 599, -55, 608, -6,
  617, -38, 627, -65, 636, 8, 646, -28, 656, -50, 666, -15, 676, -60, 687, 2, 697, -35, 708, -70,
  719, -20, 730, -48, 741, -80, 752, -8, 764, -40, 776, -62, 788, -26, 800, -88, 813, -45, 825, -12,
  838, -70, 851, -32, 864, -56, 878, -92, 892, -22, 905, -60, 919, -40, 934, -78, 948, -50, 963, -100,
  978, -30, 993, -66,
  536, -28, 537, -50, 544, -4, 545, -35, 552, -62, 553, -18, 560, -42, 561, 6, 569, -25, 570, -55,
  577, -10, 578, -38, 586, -48, 587, -2, 595, -30, 596, -60, 604, -15, 605, -42, 613, -52, 614, -20,
  622, 0, 623, -35, 632, -58, 633, -25, 641, -8, 642, -45, 651, -32, 652, -62, 661, -18, 662, -40,
  671, 4, 672, -52, 682, -28, 683, -68, 692, -12, 693, -45, 703, -55, 704, -25, 714, -38, 715, -6,
  725, -62, 726, -30, 736, -15, 737, -50, 747, -40, 748, -72, 758, -25, 759, -58, 770, -10, 771, -45,
  782, -68, 783, -35, 794, -52, 795, -20, 807, -78, 808, -40, 819, -30, 820, -60, 832, -45, 833, -85,
  845, -22, 846, -58, 858, -38, 859, -72, 871, -48, 872, -28, 885, -64, 886, -82, 899, -40, 900, -52,
  913, -70, 914, -30, 927, -58, 928, -90, 941, -44, 942, -65, 956, -35, 957, -80, 971, -55, 972, -72,
  986, -46, 987, -88, 999, -62,
  1008, -84, 1024, -55, 1040, -105, 1056, -70, 1072, -118, 1089, -45, 1106, -92, 1123, -62, 1140, -126, 1158, -80,
  1176, -50, 1194, -110, 1213, -72, 1232, -96, 1251, -58, 1270, -122, 1290, -85, 1310, -65, 1330, -108, 1351, -48,
  1372, -90, 1393, -74, 1415, -128, 1437, -60, 1459, -100, 1482, -82, 1495, -115, 1040, -40, 1120, -38, 1200, -42,
  1300, -45, 1400, -50, 1480, -55, 1060, -130, 1180, -135, 1250, -140, 1330, -128, 1450, -135,
  1004, -70, 1016, -98, 1017, -58, 1032, -82, 1033, -112, 1048, -64, 1049, -95, 1064, -52, 1065, -88, 1080, -106,
  1081, -72, 1097, -60, 1098, -120, 1114, -84, 1115, -100, 1131, -68, 1132, -110, 1149, -56, 1150, -92, 1167, -76,
  1168, -118, 1185, -64, 1186, -98, 1203, -86, 1204, -124, 1222, -60, 1223, -104, 1241, -78, 1242, -115, 1260, -92,
  1261, -68, 1280, -108, 1281, -56, 1300, -96, 1301, -120, 1320, -76, 1321, -88, 1341, -62, 1342, -114, 1361, -100,
  1362, -80, 1382, -68, 1383, -122, 1404, -92, 1405, -58, 1426, -108, 1427, -84, 1448, -70, 1449, -118, 1470, -94,
  1471, -64, 1490, -106, 1491, -78, 1493, -125,
];

// inset (10-18 Hz)
const insetGreen = [10.36, 92, 11.58, 97, 12.81, 90, 14.0, 100, 15.26, 97, 16.46, 96, 17.68, 92];
const insetRed = [10.94, -147, 12.18, -173, 13.37, -179, 14.62, -150, 15.82, -155, 17.06, -171];
const insetXTicks = [10, 12, 14, 16, 18];
const insetYTicks = [100, 0, -100, -200];

const magTicks = [0, 10, 20, 30];
const phaseTicks = [-200, -100, 0, 100];
const decades = [[100, 2], [1000, 3]];

// annotations: [tail f, tail v, head f, head v] and label [f, v]
const arrowZLMag = [33.3, 17.6, 28.7, 23.8];
const labelZLMag = [34.9, 13.3];
const arrowZSMag = [101, 9.6, 91.4, 14.4];
const labelZSMag = [108, 4.8];
const arrowZLPh = [29.6, -120, 32.7, -150];
const labelZLPh = [25.3, -101];
const arrowZSPh = [105, -34, 118.5, 22];
const labelZSPh = [100.3, -79];
const insetArrowDown = [10.36, 75, 10.36, -120];
const insetArrowUp = [12.18, -160, 12.18, 72];

const RED = '#ee1d24';
const GREEN = '#6dbf45';
const PURPLE = '#a043a3';
const AXIS = '#262626';
const FONT = 'Liberation Sans, Arial, Helvetica, sans-serif';

const pairs = (a: number[]): [number, number][] => {
  const out: [number, number][] = [];
  for (let i = 0; i < a.length; i += 2) out.push([a[i], a[i + 1]]);
  return out;
};

const x = d3.scaleLog().domain([14.8, 1500]).range([60, 559]);
const yMag = d3.scaleLinear().domain([-4.5, 30.2]).range([172, 27]);
const yPh = d3.scaleLinear().domain([-200, 100]).range([379, 233]);
const xi = d3.scaleLog().domain([10, 18]).range([97, 261]);
const yi = d3.scaleLinear().domain([-215, 145]).range([310, 264]);

const STAR = 'M-4.5,0H4.5M0,-4.5V4.5M-3.2,-3.2L3.2,3.2M-3.2,3.2L3.2,-3.2';

function Arrow({ a, sx, sy }: { a: number[]; sx: any; sy: any }) {
  const x1 = sx(a[0]), y1 = sy(a[1]), x2 = sx(a[2]), y2 = sy(a[3]);
  const t = Math.atan2(y2 - y1, x2 - x1);
  const L = 9, w = 3.6;
  const c = Math.cos(t), s = Math.sin(t);
  const bx = x2 - L * c, by = y2 - L * s;
  const nx = x2 - 0.7 * L * c, ny = y2 - 0.7 * L * s;
  return (
    <g>
      <line x1={x1} y1={y1} x2={nx} y2={ny} stroke="#000" strokeWidth={0.9} />
      <path d={`M${x2},${y2}L${bx + w * s},${by - w * c}L${nx},${ny}L${bx - w * s},${by + w * c}Z`} fill="#000" />
    </g>
  );
}

function ZLabel({ p, sub, sy }: { p: number[]; sub: string; sy: any }) {
  return (
    <text x={x(p[0])} y={sy(p[1])} fontFamily={FONT} fontWeight="bold" fontStyle="italic" fontSize={17.5} fill="#000">
      Z<tspan fontSize={12} dy={5}>{sub}</tspan>
    </text>
  );
}

function Panel({ y, ticks, clip, series }: { y: any; ticks: number[]; clip: string; series: number[][] }) {
  const [y0, y1] = y.range();
  const xt = x.ticks().filter((t: number) => t > 14.8 && t < 1500);
  const [purple, red, black, green] = series.map(pairs);
  return (
    <g>
      <clipPath id={clip}>
        <rect x={60} y={y1} width={499} height={y0 - y1} />
      </clipPath>
      {ticks.map(t => (
        <line key={'h' + t} x1={60} x2={559} y1={y(t)} y2={y(t)} stroke="#e2e2e2" strokeWidth={0.7} />
      ))}
      {xt.map((t: number) => {
        const major = t === 100 || t === 1000;
        return (
          <line key={'v' + t} x1={x(t)} x2={x(t)} y1={y0} y2={y1}
            stroke={major ? '#d4d4d4' : '#d0d0d0'} strokeWidth={major ? 0.9 : 0.7}
            strokeDasharray={major ? undefined : '1,2'} />
        );
      })}
      <g clipPath={`url(#${clip})`}>
        {purple.map((d, i) => (
          <rect key={'p' + i} x={x(d[0]) - 3.8} y={y(d[1]) - 3.8} width={7.6} height={7.6}
            fill="none" stroke={PURPLE} strokeWidth={1.4} />
        ))}
        {red.map((d, i) => (
          <circle key={'r' + i} cx={x(d[0])} cy={y(d[1])} r={3} fill={RED} />
        ))}
        {black.map((d, i) => (
          <path key={'k' + i} d={STAR} transform={`translate(${x(d[0])},${y(d[1])})`} stroke="#111" strokeWidth={0.8} fill="none" />
        ))}
        {green.map((d, i) => (
          <circle key={'g' + i} cx={x(d[0])} cy={y(d[1])} r={3} fill={GREEN} />
        ))}
      </g>
      <rect x={60} y={y1} width={499} height={y0 - y1} fill="none" stroke={AXIS} strokeWidth={0.8} />
      {xt.map((t: number) => {
        const len = t === 100 || t === 1000 ? 5 : 3.5;
        return (
          <g key={'t' + t}>
            <line x1={x(t)} x2={x(t)} y1={y0} y2={y0 - len} stroke={AXIS} strokeWidth={0.7} />
            <line x1={x(t)} x2={x(t)} y1={y1} y2={y1 + len} stroke={AXIS} strokeWidth={0.7} />
          </g>
        );
      })}
      {ticks.map(t => (
        <g key={'yt' + t}>
          <line x1={60} x2={65} y1={y(t)} y2={y(t)} stroke={AXIS} strokeWidth={0.7} />
          <line x1={554} x2={559} y1={y(t)} y2={y(t)} stroke={AXIS} strokeWidth={0.7} />
          <text x={54} y={y(t)} dy="0.35em" textAnchor="end" fontFamily={FONT} fontSize={13} fill={AXIS}>{t}</text>
        </g>
      ))}
      {decades.map(([v, e]) => (
        <text key={'d' + v} x={x(v)} y={y0 + 23} textAnchor="middle" fontFamily={FONT} fontSize={13} fill={AXIS}>
          10<tspan fontSize={9.5} dy={-6}>{e}</tspan>
        </text>
      ))}
    </g>
  );
}

function Inset() {
  const [b, t] = yi.range();
  const [l, r] = xi.range();
  return (
    <g>
      <rect x={l} y={t} width={r - l} height={b - t} fill="#fce6c6" />
      {insetXTicks.map(v => (
        <line key={'ix' + v} x1={xi(v)} x2={xi(v)} y1={t} y2={b} stroke="#c9b89f" strokeWidth={0.6} strokeDasharray="1,2" />
      ))}
      {insetYTicks.map(v => (
        <line key={'iy' + v} x1={l} x2={r} y1={yi(v)} y2={yi(v)} stroke="#c9b89f" strokeWidth={0.6} strokeDasharray="1,2" />
      ))}
      {pairs(insetGreen).map((d, i) => (
        <circle key={'ig' + i} cx={xi(d[0])} cy={yi(d[1])} r={3.4} fill={GREEN} />
      ))}
      {pairs(insetRed).map((d, i) => (
        <circle key={'ir' + i} cx={xi(d[0])} cy={yi(d[1])} r={3.4} fill={RED} />
      ))}
      <Arrow a={insetArrowDown} sx={xi} sy={yi} />
      <Arrow a={insetArrowUp} sx={xi} sy={yi} />
      <rect x={l} y={t} width={r - l} height={b - t} fill="none" stroke="#404040" strokeWidth={0.9} />
      {insetXTicks.map(v => (
        <g key={'ixt' + v}>
          <line x1={xi(v)} x2={xi(v)} y1={b} y2={b - 3} stroke={AXIS} strokeWidth={0.7} />
          <text x={xi(v)} y={b + 19} textAnchor="middle" fontFamily={FONT} fontSize={13.5} fill={AXIS}>{v}</text>
        </g>
      ))}
      {insetYTicks.map(v => (
        <g key={'iyt' + v}>
          <line x1={l} x2={l + 3} y1={yi(v)} y2={yi(v)} stroke={AXIS} strokeWidth={0.7} />
          <text x={l - 3} y={yi(v)} dy="0.36em" textAnchor="end" fontFamily={FONT} fontSize={11} fill={AXIS}>{v}</text>
        </g>
      ))}
    </g>
  );
}

export default function App() {
  return (
    <svg width={561} height={424} style={{ position: 'absolute', left: 0, top: 0, background: '#fff' }}>
      <rect width={561} height={424} fill="#fff" />
      <text x={289} y={19.5} textAnchor="middle" fontFamily={FONT} fontWeight="bold" fontSize={13.5} fill="#000">
        System Impedances Measured Using SISO and MIMO Methods
      </text>
      <Panel y={yMag} ticks={magTicks} clip="clipMag"
        series={[zlMagSiso, [...zlMagMimo, ...zlMagMimoDense], zsMagSiso, [...zsMagMimo, ...zsMagMimoDense]]} />
      <Panel y={yPh} ticks={phaseTicks} clip="clipPh"
        series={[zlPhaseSiso, [...zlPhaseMimo, ...zlPhaseMimoDense], zsPhaseSiso, [...zsPhaseMimo, ...zsPhaseMimoDense]]} />
      <text transform="translate(33,100) rotate(-90)" textAnchor="middle" fontFamily={FONT} fontSize={14.5} fill={AXIS}>Magnitude(dB)</text>
      <text transform="translate(21,302) rotate(-90)" textAnchor="middle" fontFamily={FONT} fontSize={14.5} fill={AXIS}>Phase(deg)</text>
      <text x={310} y={419} textAnchor="middle" fontFamily={FONT} fontSize={14} fill={AXIS}>Frequency (Hz)</text>
      <Arrow a={arrowZLMag} sx={x} sy={yMag} />
      <ZLabel p={labelZLMag} sub="L" sy={yMag} />
      <Arrow a={arrowZSMag} sx={x} sy={yMag} />
      <ZLabel p={labelZSMag} sub="S" sy={yMag} />
      <Arrow a={arrowZLPh} sx={x} sy={yPh} />
      <ZLabel p={labelZLPh} sub="L" sy={yPh} />
      <Arrow a={arrowZSPh} sx={x} sy={yPh} />
      <ZLabel p={labelZSPh} sub="S" sy={yPh} />
      <Inset />
    </svg>
  );
}
